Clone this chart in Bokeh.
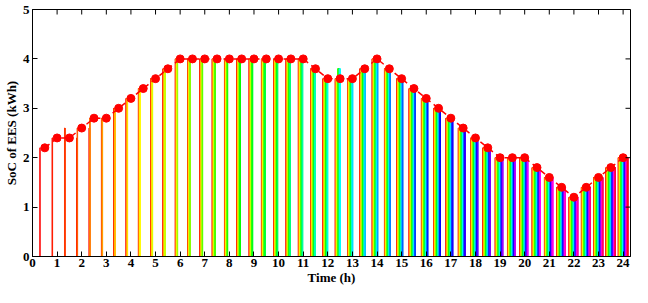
import colorsys
import math
from bokeh.plotting import figure
from bokeh.models import ColumnDataSource, FixedTicker, Range1d
from bokeh.embed import file_html
from bokeh.resources import INLINE

# time slots (h)
time_h = [0.5, 1.0, 1.5, 2.0, 2.5, 3.0, 3.5, 4.0, 4.5, 5.0, 5.5, 6.0,
          6.5, 7.0, 7.5, 8.0, 8.5, 9.0, 9.5, 10.0, 10.5, 11.0, 11.5, 12.0,
          12.5, 13.0, 13.5, 14.0, 14.5, 15.0, 15.5, 16.0, 16.5, 17.0, 17.5, 18.0,
          18.5, 19.0, 19.5, 20.0, 20.5, 21.0, 21.5, 22.0, 22.5, 23.0, 23.5, 24.0]

# realised SoC (markers)
soc = [2.2, 2.4, 2.4, 2.6, 2.8, 2.8, 3.0, 3.2, 3.4, 3.6, 3.8, 4.0,
       4.0, 4.0, 4.0, 4.0, 4.0, 4.0, 4.0, 4.0, 4.0, 4.0, 3.8, 3.6,
       3.6, 3.6, 3.8, 4.0, 3.8, 3.6, 3.4, 3.2, 3.0, 2.8, 2.6, 2.4,
       2.2, 2.0, 2.0, 2.0, 1.8, 1.6, 1.4, 1.2, 1.4, 1.6, 1.8, 2.0]

# SoC planned by the rolling runs (bars), per time slot
bar_soc = [2.2, 2.4, 2.6, 2.6, 2.8, 2.8, 3.0, 3.2, 3.4, 3.6, 3.8, 4.0,
           4.0, 4.0, 4.0, 4.0, 4.0, 4.0, 4.0, 4.0, 4.0, 4.0, 3.8, 3.6,
           3.6, 3.6, 3.8, 4.0, 3.8, 3.6, 3.4, 3.2, 3.0, 2.8, 2.6, 2.4,
           2.2, 2.0, 2.0, 2.0, 1.8, 1.6, 1.4, 1.2, 1.4, 1.6, 1.8, 2.0]

# runs whose plan differs at a slot: (slot time, first run, last run, SoC)
dev_time = [2.0, 2.5, 12.5]
dev_first_run = [1, 1, 13]
dev_last_run = [2, 3, 25]
dev_soc = [2.4, 2.6, 3.8]

x_ticks = list(range(0, 25))
y_ticks = [0, 1, 2, 3, 4, 5]

n_runs = len(time_h)
group_w = 0.4
bar_w = group_w / n_runs

bx, btop, bcol = [], [], []
for k, t in enumerate(time_h, start=1):
    for j in range(1, k + 1):
        v = bar_soc[k - 1]
        for dt, f, l, dv in zip(dev_time, dev_first_run, dev_last_run, dev_soc):
            if dt == t and f <= j <= l:
                v = dv
        r, g, b = colorsys.hsv_to_rgb((j - 1) / n_runs, 1.0, 1.0)
        bx.append(t - group_w / 2 + (j - 0.5) * bar_w)
        btop.append(v)
        bcol.append("#%02x%02x%02x" % (int(r * 255), int(g * 255), int(b * 255)))

bars = ColumnDataSource(dict(x=bx, top=btop, color=bcol))
pts = ColumnDataSource(dict(x=time_h, y=soc))

FONT = "Liberation Serif"
X_END = 24.3
Y_END = 5

p = figure(width=632, height=287, x_range=Range1d(0, X_END), y_range=Range1d(0, Y_END),
           output_backend="svg", toolbar_location=None,
           min_border_left=28, min_border_right=2, min_border_top=9, min_border_bottom=0)
p.background_fill_color = "white"
p.border_fill_color = "white"
p.xgrid.visible = False
p.ygrid.visible = False
p.outline_line_color = "black"
p.outline_line_width = 1

p.vbar(x="x", top="top", bottom=0, width=bar_w, source=bars,
       fill_color="color", line_color="color", line_width=1)

p.line(x="x", y="y", source=pts, line_color="#ff0000", line_width=1.5, line_dash="6 4")
p.scatter(x="x", y="y", source=pts, size=8, marker="circle",
          fill_color="#ff0000", line_color="#ff0000")

# inward tick marks on the top and right frame edges (half clipped by the frame)
p.scatter(x=x_ticks, y=[Y_END] * len(x_ticks), marker="dash", size=10,
          angle=math.pi / 2, line_color="black", line_width=1)
p.scatter(x=[X_END] * len(y_ticks), y=y_ticks, marker="dash", size=10,
          line_color="black", line_width=1)

for ax in (p.xaxis[0], p.yaxis[0]):
    ax.major_tick_in = 5
    ax.major_tick_out = 0
    ax.minor_tick_line_color = None
    ax.axis_line_color = "black"
    ax.major_label_text_font = FONT
    ax.major_label_text_font_style = "bold"
    ax.major_label_text_font_size = "13px"
    ax.major_label_text_color = "black"
    ax.axis_label_text_font = FONT
    ax.axis_label_text_font_style = "bold"
    ax.axis_label_text_font_size = "13px"
    ax.axis_label_text_color = "black"

p.xaxis.ticker = FixedTicker(ticks=x_ticks)
p.yaxis.ticker = FixedTicker(ticks=y_ticks)
p.xaxis.axis_label = "Time (h)"
p.yaxis.axis_label = "SoC of EES (kWh)"
p.xaxis.major_label_standoff = 2
p.xaxis.axis_label_standoff = 0
p.yaxis.major_label_standoff = 3
p.yaxis.axis_label_standoff = 1

open("out.html", "w").write(file_html(p, INLINE))
